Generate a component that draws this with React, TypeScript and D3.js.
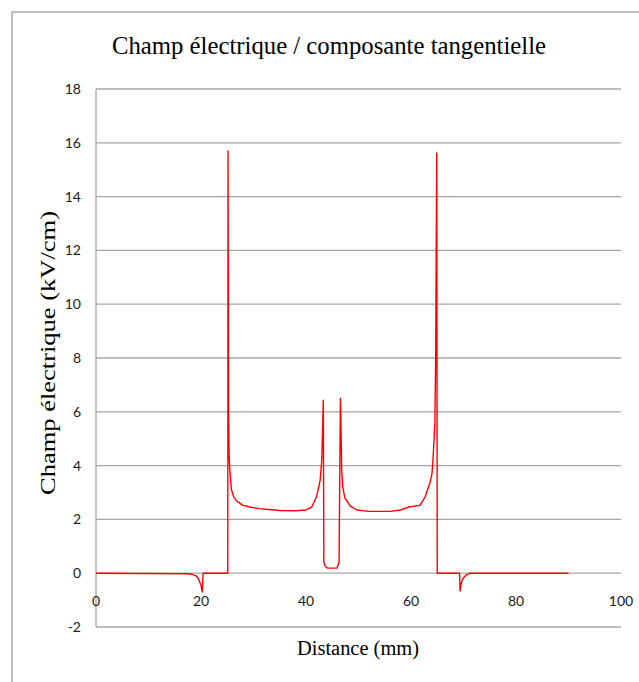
import React from 'react';
import * as d3 from 'd3';

// distance (mm) / tangential field (kV/cm)
const distance = [
  0, 17.5, 18.5, 19.2, 19.6, 20.0, 20.25, 20.4, 25.1, 25.15, 25.25, 25.35, 25.5, 25.8, 26.3, 27, 28,
  29.3, 31, 33, 35, 38, 40, 41.1, 42, 42.7, 43.0, 43.15, 43.3, 43.4, 43.7, 44.1, 45.9, 46.3, 46.55,
  46.65, 46.8, 47.0, 47.4, 48.4, 49.7, 52, 56, 58, 59.6, 61.7, 62.7, 63.6, 64.0, 64.2, 64.4, 64.55,
  64.7, 64.8, 64.9, 65.0, 69.25, 69.35, 69.6, 69.9, 70.5, 71.2, 90,
];
const field = [
  0, -0.02, -0.05, -0.12, -0.25, -0.45, -0.7, 0, 0, 15.7, 5.9, 4.4, 3.8, 3.1, 2.8, 2.65, 2.52,
  2.46, 2.4, 2.37, 2.33, 2.32, 2.35, 2.46, 2.84, 3.46, 4.2, 5.3, 6.43, 0.42, 0.25, 0.19, 0.19, 0.42, 6.5,
  5.57, 3.83, 3.2, 2.8, 2.5, 2.35, 2.3, 2.3, 2.35, 2.46, 2.52, 2.84, 3.35, 3.7, 4.28, 5.0, 5.6,
  8, 12, 15.62, 0, 0, -0.66, -0.35, -0.2, -0.07, 0, 0,
];
const xTicks = [0, 20, 40, 60, 80, 100];
const yTicks = [-2, 0, 2, 4, 6, 8, 10, 12, 14, 16, 18];

const W = 639;
const H = 682;
const gridColor = '#a6a6a6';
const tickFont = "Lato, 'Liberation Sans', Arial, sans-serif";
const serif = "'Liberation Serif', 'Times New Roman', serif";

export default function App() {
  const x = d3.scaleLinear().domain([0, 100]).range([96, 621]);
  const y = d3.scaleLinear().domain([-2, 18]).range([627, 89]);

  const pts = distance.map((d, i) => [d, field[i]] as [number, number]);
  const line = d3
    .line<[number, number]>()
    .x((d) => x(d[0]))
    .y((d) => y(d[1]));

  return (
    <svg
      width={W}
      height={H}
      style={{ position: 'absolute', left: 0, top: 0, display: 'block', background: '#fff' }}
    >
      <rect x={12} y={12} width={700} height={700} fill="#fff" stroke="#9a9a9a" strokeWidth={1.3} />

      <text
        x={329}
        y={54}
        textAnchor="middle"
        fontFamily={serif}
        fontSize={25}
        textLength={434}
        lengthAdjust="spacingAndGlyphs"
        fill="#000"
      >
        Champ électrique / composante tangentielle
      </text>

      {/* horizontal gridlines */}
      {yTicks.map((t) => (
        <line key={'g' + t} x1={x(0)} x2={x(100)} y1={y(t)} y2={y(t)} stroke={gridColor} strokeWidth={1.3} />
      ))}
      {/* value axis */}
      <line x1={x(0)} x2={x(0)} y1={y(18)} y2={y(-2)} stroke={gridColor} strokeWidth={1.3} />

      {yTicks.map((t) => (
        <text
          key={'y' + t}
          x={81}
          y={y(t)}
          dy="0.35em"
          textAnchor="end"
          fontFamily={tickFont}
          fontSize={14}
          fill="#1a1a1a"
        >
          {t}
        </text>
      ))}
      {xTicks.map((t) => (
        <text
          key={'x' + t}
          x={x(t)}
          y={601}
          dy="0.35em"
          textAnchor="middle"
          fontFamily={tickFont}
          fontSize={14}
          fill="#1a1a1a"
        >
          {t}
        </text>
      ))}

      <path d={line(pts) || ''} fill="none" stroke="#ff0000" strokeWidth={1.4} strokeLinejoin="round" />

      <text
        transform={`translate(48,353) rotate(-90)`}
        dy="0.35em"
        textAnchor="middle"
        fontFamily={serif}
        fontSize={20}
        textLength={284}
        lengthAdjust="spacingAndGlyphs"
        fill="#000"
      >
        Champ électrique (kV/cm)
      </text>
      <text
        x={358}
        y={648}
        dy="0.35em"
        textAnchor="middle"
        fontFamily={serif}
        fontSize={20}
        textLength={122}
        lengthAdjust="spacingAndGlyphs"
        fill="#000"
      >
        Distance (mm)
      </text>
    </svg>
  );
}
